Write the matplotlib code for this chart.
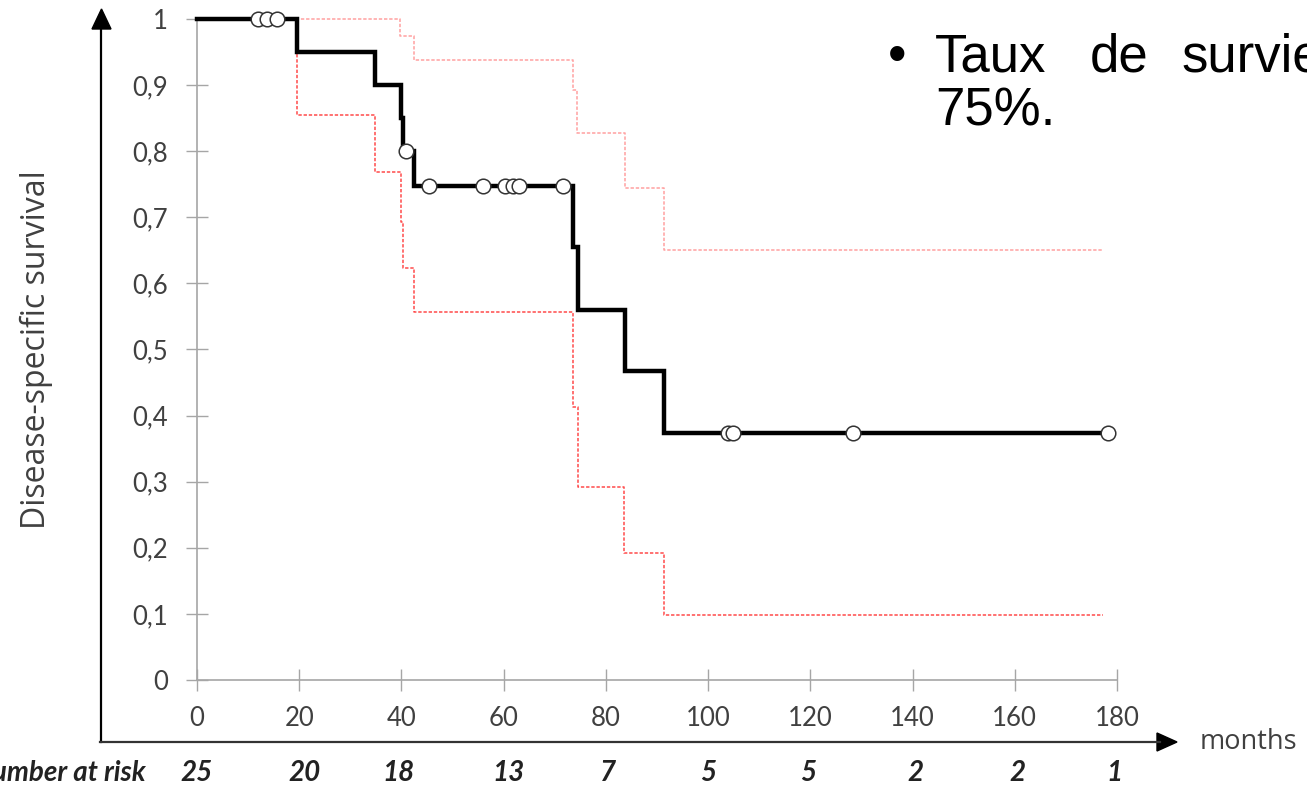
import numpy as np
import matplotlib
matplotlib.use("Agg")
import matplotlib.pyplot as plt

# ---------------- data ----------------
km_times = [0, 19.6, 34.8, 39.9, 40.3, 42.4, 73.6, 74.5, 83.7, 91.4]
km_surv = [1.0, 0.95, 0.90, 0.85, 0.80, 0.747, 0.655, 0.560, 0.467, 0.374]
km_end = 178.3

censor_times = [12.0, 13.7, 15.6, 40.9, 45.4, 56.0, 60.3, 61.8, 63.0, 71.6,
                103.9, 104.9, 128.3, 178.3]

lower_times = [0, 19.6, 34.8, 39.9, 40.3, 42.4, 73.6, 74.5, 83.6, 91.4]
lower_vals = [1.0, 0.855, 0.769, 0.693, 0.623, 0.557, 0.413, 0.292, 0.192, 0.098]
upper_times = [0, 39.8, 42.4, 73.6, 74.3, 83.7, 91.4]
upper_vals = [1.0, 0.975, 0.938, 0.893, 0.828, 0.744, 0.650]
ci_end = 177.3

x_ticks = [0, 20, 40, 60, 80, 100, 120, 140, 160, 180]
y_ticks = [0, 0.1, 0.2, 0.3, 0.4, 0.5, 0.6, 0.7, 0.8, 0.9, 1.0]
y_ticklabels = ["0", "0,1", "0,2", "0,3", "0,4", "0,5", "0,6", "0,7", "0,8", "0,9", "1"]
at_risk = ["25", "20", "18", "13", "7", "5", "5", "2", "2", "1"]
at_risk_x = [0, 21, 39.5, 61, 80.5, 100, 119.5, 140.5, 160.5, 179.5]

# ---------------- figure ----------------
W, H = 1307, 786
fig = plt.figure(figsize=(W / 100, H / 100), dpi=100)
ax = fig.add_axes([197 / W, 1 - 680 / H, 920 / W, 661 / H])
ax.set_xlim(0, 180)
ax.set_ylim(0, 1)

grey = "#a6a6a6"
txt = "#404040"
font = "Lato"

for s in ["top", "right"]:
    ax.spines[s].set_visible(False)
for s in ["left", "bottom"]:
    ax.spines[s].set_color(grey)
    ax.spines[s].set_linewidth(1.2)

ax.set_xticks(x_ticks)
ax.set_xticklabels([str(v) for v in x_ticks])
ax.set_yticks(y_ticks)
ax.set_yticklabels(y_ticklabels)
ax.tick_params(axis="both", direction="inout", length=15.5, width=1.0, color=grey,
               labelcolor=txt, labelsize=18.5)
ax.tick_params(axis="y", pad=13.0)
ax.tick_params(axis="x", pad=11.0)
for lab in ax.get_xticklabels() + ax.get_yticklabels():
    lab.set_fontfamily(font)

# confidence limits
ax.step(list(upper_times) + [ci_end], list(upper_vals) + [upper_vals[-1]], where="post",
        color="#ffa0a0", lw=1.1, ls=(0, (2.2, 1.2)), clip_on=False, zorder=2)
ax.step(list(lower_times) + [ci_end], list(lower_vals) + [lower_vals[-1]], where="post",
        color="#ff4a4a", lw=1.1, ls=(0, (2.2, 1.2)), clip_on=False, zorder=2)

# KM curve
ax.step(list(km_times) + [km_end], list(km_surv) + [km_surv[-1]], where="post",
        color="black", lw=3.2, clip_on=False, zorder=3, solid_joinstyle="miter")

# censor marks
idx = np.searchsorted(km_times, censor_times, side="right") - 1
cens_y = np.array(km_surv)[idx]
ax.plot(censor_times, cens_y, ls="none", marker="o", ms=10.5, mfc="white",
        mec="#333333", mew=1.1, clip_on=False, zorder=4)

# outer arrows
fig.add_artist(plt.Line2D([101 / W, 101 / W], [44 / H, 760 / H], color="black", lw=1.6))
fig.add_artist(plt.Line2D([100 / W, 1160 / W], [44 / H, 44 / H], color="#333333", lw=1.6))
fig.add_artist(plt.Polygon([[92 / W, 757 / H], [111 / W, 757 / H], [101.5 / W, 777 / H]],
                           closed=True, color="black"))
fig.add_artist(plt.Polygon([[1157 / W, 35 / H], [1157 / W, 53 / H], [1177 / W, 44 / H]],
                           closed=True, color="black"))

fig.text(1200 / W, 44 / H, "months", fontsize=19.5, color=txt, family="Open Sans",
         ha="left", va="center")
fig.text(36 / W, 1 - 350 / H, "Disease-specific survival", fontsize=23, color=txt,
         family="Open Sans", rotation=90, ha="center", va="center")

# number at risk
fig.text(146 / W, 1 - 773 / H, "Number at risk", fontsize=20, color="#222222",
         family=font, weight="bold", style="italic", ha="right", va="center")
for xv, lab in zip(at_risk_x, at_risk):
    xp = 197 + xv * 920 / 180
    fig.text(xp / W, 1 - 773 / H, lab, fontsize=20, color="#222222", family=font,
             weight="bold", style="italic", ha="center", va="center")

# bullet text
bfont = "Liberation Sans"
fig.text(897 / W, 1 - 72 / H, "\u2022", fontsize=38, family=bfont, ha="center",
         va="baseline", color="black")
fig.text(935 / W, 1 - 72 / H, "Taux", fontsize=38, family=bfont, ha="left",
         va="baseline", color="black")
fig.text(1090 / W, 1 - 72 / H, "de", fontsize=38, family=bfont, ha="left",
         va="baseline", color="black")
fig.text(1181 / W, 1 - 72 / H, "survie", fontsize=38, family=bfont, ha="left",
         va="baseline", color="black")
fig.text(935 / W, 1 - 126 / H, "75%.", fontsize=38, family=bfont, ha="left",
         va="baseline", color="black")

fig.savefig("out.png", dpi=100)
